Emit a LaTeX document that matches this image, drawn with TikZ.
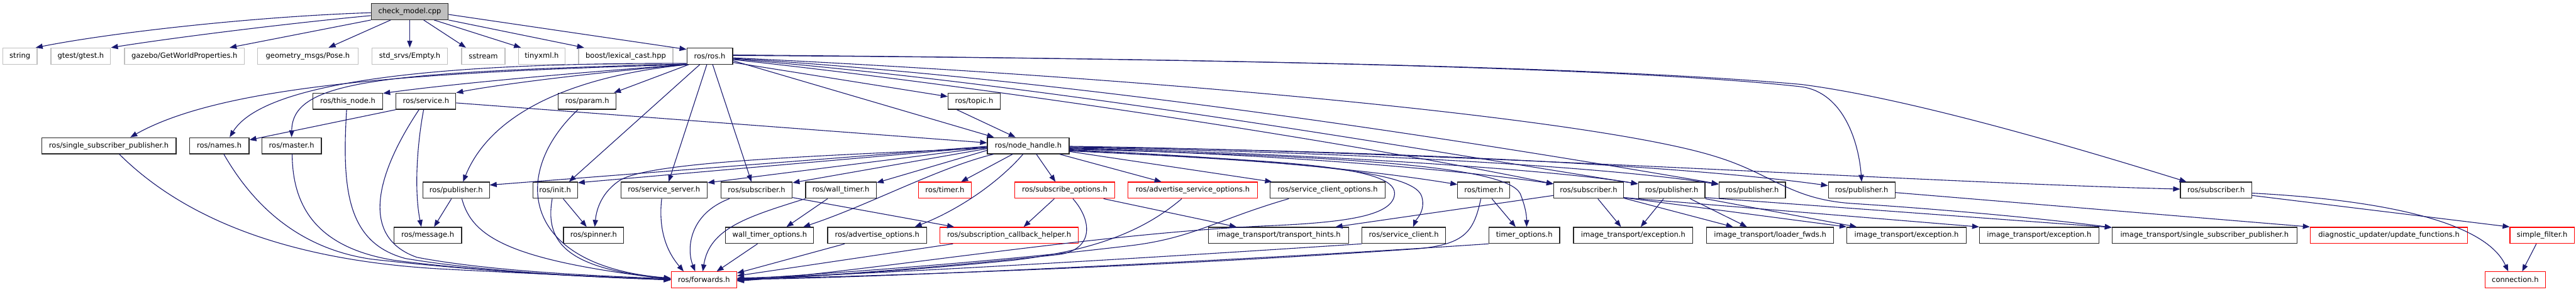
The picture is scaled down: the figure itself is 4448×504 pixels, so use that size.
\documentclass[tikz,border=0pt]{standalone}
\usepackage{fontspec}
\setmainfont{DejaVu Sans}
\usetikzlibrary{arrows.meta}
\definecolor{edgecol}{HTML}{191970}
\definecolor{extgray}{HTML}{BFBFBF}
\newcommand{\fsz}{\fontsize{12.5}{14}\selectfont}
\newcommand{\gn}[6]{\node[#5,minimum width={(#3-#2)*1pt}] (#1) at ({(#2+#3)/2},#4) {#6};}
\tikzset{
  box/.style={draw,rectangle,minimum height=28pt,inner sep=0pt,font=\fsz,line width=1.3pt},
  doc/.style={box,draw=black!85},
  trunc/.style={box,draw=red},
  ext/.style={box,draw=extgray},
  root/.style={box,draw=black!85,fill=extgray},
  dep/.style={draw=edgecol,line width=1.2pt,-{Triangle[length=12pt,width=9pt]}}
}
\begin{document}
\begin{tikzpicture}[x=1pt,y=-1pt]
\useasboundingbox (0,0) rectangle (4448,504);
% row 0
\gn{cm}{641}{774}{20}{root}{check\_model.cpp}
% row 1
\gn{string}{5}{64}{97}{ext}{string}
\gn{gtest}{88}{191}{97}{ext}{gtest/gtest.h}
\gn{gazebo}{215}{422}{97}{ext}{gazebo/GetWorldProperties.h}
\gn{geom}{445}{618}{97}{ext}{geometry\_msgs/Pose.h}
\gn{stdsrvs}{642}{773}{97}{ext}{std\_srvs/Empty.h}
\gn{sstream}{797}{872}{97}{ext}{sstream}
\gn{tinyxml}{895}{976}{97}{ext}{tinyxml.h}
\gn{boost}{999}{1162}{97}{ext}{boost/lexical\_cast.hpp}
\gn{ros}{1186}{1265}{97}{doc}{ros/ros.h}
% row 2
\gn{thisnode}{540}{661}{175}{doc}{ros/this\_node.h}
\gn{service}{684}{787}{175}{doc}{ros/service.h}
\gn{param}{964}{1064}{175}{doc}{ros/param.h}
\gn{topic}{1637}{1727}{175}{doc}{ros/topic.h}
% row 3
\gn{ssp}{72}{304}{252}{doc}{ros/single\_subscriber\_publisher.h}
\gn{names}{327}{430}{252}{doc}{ros/names.h}
\gn{master}{452}{555}{252}{doc}{ros/master.h}
\gn{nh}{1705}{1846}{252}{doc}{ros/node\_handle.h}
% row 4
\gn{pub1}{730}{845}{329}{doc}{ros/publisher.h}
\gn{init}{920}{997}{329}{doc}{ros/init.h}
\gn{srvsrv}{1072}{1221}{329}{doc}{ros/service\_server.h}
\gn{sub1}{1245}{1368}{329}{doc}{ros/subscriber.h}
\gn{walltimer}{1391}{1513}{329}{doc}{ros/wall\_timer.h}
\gn{timer1}{1586}{1677}{329}{trunc}{ros/timer.h}
\gn{subopts}{1752}{1925}{329}{trunc}{ros/subscribe\_options.h}
\gn{advsrvopts}{1948}{2171}{329}{trunc}{ros/advertise\_service\_options.h}
\gn{srvcliopts}{2193}{2392}{329}{doc}{ros/service\_client\_options.h}
\gn{timer2}{2517}{2607}{329}{doc}{ros/timer.h}
\gn{sub2}{2683}{2803}{329}{doc}{ros/subscriber.h}
\gn{pub2}{2829}{2944}{329}{doc}{ros/publisher.h}
\gn{pub3}{2968}{3083}{329}{doc}{ros/publisher.h}
\gn{pub4}{3157}{3272}{329}{doc}{ros/publisher.h}
\gn{sub3}{3765}{3888}{329}{doc}{ros/subscriber.h}
% row 5
\gn{message}{680}{797}{407}{doc}{ros/message.h}
\gn{spinner}{973}{1077}{407}{doc}{ros/spinner.h}
\gn{wto}{1253}{1405}{407}{doc}{wall\_timer\_options.h}
\gn{advopts}{1429}{1600}{407}{doc}{ros/advertise\_options.h}
\gn{sch}{1623}{1862}{407}{trunc}{ros/subscription\_callback\_helper.h}
\gn{th}{2087}{2329}{407}{doc}{image\_transport/transport\_hints.h}
\gn{srvcli}{2352}{2496}{407}{doc}{ros/service\_client.h}
\gn{timeropts}{2571}{2693}{407}{doc}{timer\_options.h}
\gn{exc1}{2717}{2923}{407}{doc}{image\_transport/exception.h}
\gn{loader}{2947}{3166}{407}{doc}{image\_transport/loader\_fwds.h}
\gn{exc2}{3189}{3395}{407}{doc}{image\_transport/exception.h}
\gn{exc3}{3418}{3624}{407}{doc}{image\_transport/exception.h}
\gn{itssp}{3647}{3966}{407}{doc}{image\_transport/single\_subscriber\_publisher.h}
\gn{diag}{3989}{4261}{407}{trunc}{diagnostic\_updater/update\_functions.h}
\gn{sf}{4334}{4445}{407}{trunc}{simple\_filter.h}
% row 6
\gn{fwd}{1159}{1272}{484}{trunc}{ros/forwards.h}
\gn{conn}{4291}{4395}{484}{trunc}{connection.h}

% ---- edges from check_model.cpp
\draw[dep] ([yshift=-2pt]cm.west) .. controls (450,28) and (200,55) .. ([xshift=-3pt]string.north east);
\draw[dep] ([yshift=-7pt]cm.west) .. controls (500,40) and (300,65) .. (gtest.north east);
\draw[dep] (cm.south west) -- ([xshift=78pt]gazebo.north);
\draw[dep] ([xshift=-33pt]cm.south) -- ([xshift=36pt]geom.north);
\draw[dep] (cm.south) -- (stdsrvs.north);
\draw[dep] ([xshift=24pt]cm.south) -- ([xshift=-30pt]sstream.north);
\draw[dep] ([xshift=42pt]cm.south) -- ([xshift=-36pt]tinyxml.north);
\draw[dep] (cm.south east) -- ([xshift=-72pt]boost.north);
\draw[dep] ([yshift=-5pt]cm.east) -- ([yshift=-3pt]ros.north west);

% ---- edges from ros/ros.h
\draw[dep] ([xshift=1pt]ros.south west) .. controls (1000,125) and (780,145) .. ([yshift=-1pt]thisnode.north east);
\draw[dep] ([xshift=1pt]ros.south west) .. controls (1000,128) and (850,148) .. (service.north east);
\draw[dep] ([yshift=2pt]ros.south west) .. controls (700,108) and (450,150) .. ([xshift=18pt]names.north);
\draw[dep] ([yshift=1pt]ros.south west) .. controls (650,125) and (505,140) .. (master.north);
\draw[dep] (ros.south west) .. controls (700,125) and (380,150) .. ([xshift=37pt]ssp.north);
\draw[dep] ([xshift=2pt]ros.south west) .. controls (1000,130) and (850,190) .. ([xshift=12pt]pub1.north);
\draw[dep] ([xshift=4pt]ros.south west) -- ([xshift=46pt]param.north);
\draw[dep] ([xshift=23pt]ros.south west) -- ([xshift=24pt]init.north);
\draw[dep] ([xshift=-5pt]ros.south) -- ([xshift=8pt]srvsrv.north);
\draw[dep] ([xshift=5pt]ros.south) -- ([xshift=-9pt]sub1.north);
\draw[dep] ([yshift=-11pt]ros.east) -- ([yshift=8pt]topic.west);
\draw[dep] ([yshift=-8pt]ros.east) -- ([xshift=12pt]nh.north west);
\draw[dep] ([yshift=-6pt]ros.east) .. controls (1700,150) and (2300,240) .. ([yshift=11pt]sub2.west);
\draw[dep] ([yshift=-5pt]ros.east) .. controls (1800,145) and (2400,250) .. ([yshift=11pt]pub2.west);
\draw[dep] ([yshift=-4pt]ros.east) .. controls (1900,140) and (2600,255) .. ([yshift=11pt]pub3.west);
\draw[dep] ([yshift=-3pt]ros.east) .. controls (2000,135) and (2750,205) .. (2960,270) .. controls (3060,300) and (3090,345) .. (3200,352) .. controls (3400,365) and (3560,382) .. ([yshift=-1pt]itssp.north west);
\draw[dep] ([yshift=1pt]ros.east) .. controls (2000,100) and (2800,115) .. (3110,150) .. controls (3185,160) and (3210,250) .. (pub4.north);
\draw[dep] ([yshift=2pt]ros.east) .. controls (2200,103) and (2800,118) .. (3110,146) .. controls (3300,170) and (3600,260) .. ([xshift=11pt]sub3.north west);

% ---- row 2
\draw[dep] (service.south west) -- ([yshift=10pt]names.east);
\draw[dep] ([xshift=-4pt]service.south) .. controls (720,250) and (715,330) .. ([xshift=-11pt]message.north);
\draw[dep] ([xshift=-12pt]service.south) .. controls (650,300) and (620,410) .. (720,445) .. controls (850,470) and (1050,478) .. ([yshift=2pt]fwd.west);
\draw[dep] ([yshift=-3pt]service.east) -- ([yshift=5pt]nh.west);
\draw[dep] ([xshift=-2pt]thisnode.south) .. controls (590,330) and (600,420) .. (700,447) .. controls (850,472) and (1050,480) .. ([yshift=1pt]fwd.west);
\draw[dep] ([xshift=-16pt]param.south) .. controls (880,300) and (900,460) .. ([yshift=3pt]fwd.west);
\draw[dep] ([xshift=-30pt]topic.south) -- ([xshift=-22pt]nh.north);

% ---- row 3
\draw[dep] ([xshift=18pt]ssp.south) .. controls (320,380) and (500,450) .. (760,465) .. controls (950,475) and (1080,480) .. (fwd.west);
\draw[dep] ([xshift=8pt]names.south) .. controls (440,360) and (520,430) .. (640,448) .. controls (850,472) and (1050,480) .. (fwd.west);
\draw[dep] ([xshift=1pt]master.south) .. controls (505,370) and (560,430) .. (680,450) .. controls (850,472) and (1050,480) .. (fwd.west);

% ---- node_handle left/bottom
\draw[dep] ([yshift=-1pt]nh.west) -- ([yshift=9pt]pub1.east);
\draw[dep] ([yshift=-2pt]nh.west) -- ([yshift=13pt]init.east);
\draw[dep] ([yshift=-3pt]nh.west) -- ([yshift=13pt]srvsrv.east);
\draw[dep] ([yshift=-5pt]nh.west) -- ([yshift=13pt]sub1.east);
\draw[dep] ([yshift=-8pt]nh.west) -- ([yshift=13pt]walltimer.east);
\draw[dep] ([yshift=-4pt]nh.west) .. controls (1400,270) and (1120,280) .. (1070,312) .. controls (1040,332) and (1030,360) .. ([xshift=2pt]spinner.north);
\draw[dep] ([xshift=-60pt]nh.south) .. controls (1620,290) and (1500,355) .. ([xshift=58pt]wto.north);
\draw[dep] ([xshift=-9pt]nh.south) .. controls (1720,320) and (1650,365) .. ([xshift=65pt]advopts.north);
\draw[dep] ([xshift=-27pt]nh.south) -- ([xshift=28pt]timer1.north);
\draw[dep] ([xshift=14pt]nh.south) -- ([xshift=-16pt]subopts.north);
\draw[dep] ([xshift=54pt]nh.south) -- ([xshift=-54pt]advsrvopts.north);
\draw[dep] ([yshift=-10pt]nh.east) -- ([xshift=4pt]srvcliopts.north west);

% ---- node_handle right
\draw[dep] ([yshift=-8pt]nh.east) .. controls (2200,280) and (2440,290) .. (2455,340) .. controls (2462,365) and (2445,380) .. ([xshift=16pt]srvcli.north);
\draw[dep] ([yshift=-9pt]nh.east) .. controls (2200,278) and (2410,285) .. (2408,335) .. controls (2406,372) and (2330,384) .. (2200,390) .. controls (1900,402) and (1500,470) .. ([yshift=-2pt]fwd.east);
\draw[dep] ([yshift=-7pt]nh.east) .. controls (2200,275) and (2400,300) .. ([yshift=10pt]timer2.west);
\draw[dep] ([yshift=-6pt]nh.east) .. controls (2300,270) and (2600,285) .. (2625,335) .. controls (2635,360) and (2636,375) .. ([xshift=4pt]timeropts.north);
\draw[dep] ([yshift=-5pt]nh.east) .. controls (2250,268) and (2550,298) .. ([yshift=11pt]sub2.west);
\draw[dep] ([yshift=-4pt]nh.east) .. controls (2300,266) and (2700,296) .. ([yshift=11pt]pub2.west);
\draw[dep] ([yshift=-3pt]nh.east) .. controls (2400,264) and (2800,292) .. ([yshift=10pt]pub3.west);
\draw[dep] ([yshift=-2pt]nh.east) .. controls (2500,262) and (2950,292) .. ([yshift=8pt]pub4.west);
\draw[dep] ([yshift=-1pt]nh.east) .. controls (2500,262) and (3300,315) .. ([yshift=2pt]sub3.west);

% ---- row 4 -> row 5/6
\draw[dep] ([xshift=-8pt]pub1.south) -- ([xshift=11pt]message.north);
\draw[dep] ([xshift=10pt]pub1.south) .. controls (815,410) and (880,450) .. ([yshift=1pt]fwd.west);
\draw[dep] ([xshift=14pt]init.south) -- ([xshift=-12pt]spinner.north);
\draw[dep] ([xshift=-5pt]init.south) .. controls (940,420) and (980,465) .. ([yshift=2pt]fwd.west);
\draw[dep] ([xshift=-4pt]srvsrv.south) .. controls (1135,410) and (1160,445) .. ([xshift=-35pt]fwd.north);
\draw[dep] ([xshift=-47pt]sub1.south) .. controls (1190,370) and (1185,430) .. ([xshift=-15pt]fwd.north);
\draw[dep] ([yshift=2pt]sub1.south east) -- ([xshift=-95pt]sch.north);
\draw[dep] (walltimer.south west) .. controls (1290,375) and (1225,395) .. ([xshift=-2pt]fwd.north);
\draw[dep] ([xshift=-23pt]walltimer.south) -- ([xshift=29pt]wto.north);
\draw[dep] ([xshift=-21pt]wto.south) -- ([xshift=22pt]fwd.north);
\draw[dep] ([xshift=-56pt]advopts.south) -- ([yshift=-3pt]fwd.north east);
\draw[dep] ([xshift=-97pt]sch.south) -- ([yshift=7pt]fwd.east);
\draw[dep] ([xshift=-18pt]subopts.south) -- ([xshift=25pt]sch.north);
\draw[dep] ([xshift=14pt]subopts.south) .. controls (1885,380) and (1890,430) .. (1830,440) .. controls (1600,465) and (1400,478) .. ([yshift=-1pt]fwd.east);
\draw[dep] ([xshift=67pt]subopts.south) -- ([xshift=-73pt]th.north);
\draw[dep] ([xshift=-19pt]advsrvopts.south) .. controls (1980,395) and (1900,432) .. (1750,450) .. controls (1550,470) and (1400,478) .. (fwd.east);
\draw[dep] ([xshift=33pt]srvcliopts.south west) .. controls (2100,380) and (2060,412) .. (1950,425) .. controls (1700,455) and (1400,475) .. ([yshift=1pt]fwd.east);
\draw[dep] ([xshift=14pt]timer2.south) -- ([xshift=-15pt]timeropts.north);
\draw[dep] ([xshift=-5pt]timer2.south) .. controls (2545,400) and (2530,422) .. (2450,430) .. controls (2000,462) and (1450,480) .. ([yshift=2pt]fwd.east);
\draw[dep] (srvcli.south west) .. controls (2000,445) and (1500,475) .. ([yshift=3pt]fwd.east);
\draw[dep] (timeropts.south west) .. controls (2200,447) and (1500,482) .. ([yshift=1pt]fwd.east);

\draw[dep] ([yshift=-9pt]sub2.west) -- ([xshift=98pt]th.north);
\draw[dep] ([xshift=16pt]sub2.south) -- ([xshift=-21pt]exc1.north);
\draw[dep] ([xshift=-14pt]pub2.south) -- ([xshift=13pt]exc1.north);
\draw[dep] ([yshift=1pt]sub2.south east) -- ([xshift=-64pt]loader.north);
\draw[dep] ([xshift=32pt]pub2.south) -- ([xshift=-40pt]loader.north);
\draw[dep] ([yshift=2pt]sub2.south east) -- (exc2.north west);
\draw[dep] (pub2.south east) -- ([xshift=-86pt]exc2.north);
\draw[dep] ([yshift=2pt]sub2.south east) -- (exc3.north west);
\draw[dep] ([yshift=2pt]pub2.south east) -- ([yshift=-1pt]itssp.north west);
\draw[dep] ([yshift=-4pt]pub4.east) -- (diag.north west);
\draw[dep] ([yshift=-9pt]sub3.east) -- (sf.north west);
\draw[dep] ([yshift=-5pt]sub3.east) .. controls (4100,345) and (4290,380) .. ([xshift=-12pt]conn.north);
\draw[dep] ([xshift=-10pt]sf.south) -- ([xshift=12pt]conn.north);
\end{tikzpicture}
\end{document}
